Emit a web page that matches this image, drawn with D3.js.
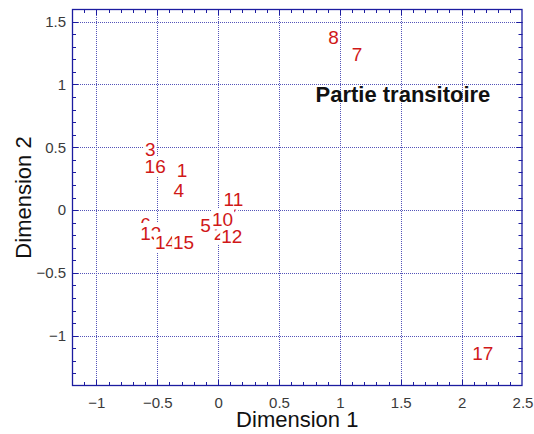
<!DOCTYPE html>
<html><head><meta charset="utf-8">
<script src="https://cdn.jsdelivr.net/npm/d3@7"></script>
<style>body{margin:0;background:#fff}svg{display:block}text{font-family:"Liberation Sans",Arial,sans-serif}</style>
</head><body><svg id="c" width="534" height="434"></svg>
<script>
const pointIds = ["1","2","3","4","5","6","7","8","9","10","11","12","13","14","15","16","17"];
const dim1 = [-0.34,-0.035,-0.60,-0.366,-0.146,-0.64,1.098,0.905,0.07,-0.05,0.045,0.025,-0.64,-0.518,-0.37,-0.604,2.087];
const dim2 = [0.32,-0.185,0.487,0.16,-0.123,-0.11,1.243,1.375,0.028,-0.07,0.089,-0.21,-0.185,-0.256,-0.256,0.347,-1.144];
const xTicks = [-1,-0.5,0,0.5,1,1.5,2,2.5];
const yTicks = [-1,-0.5,0,0.5,1,1.5];
const xLabel = "Dimension 1", yLabel = "Dimension 2", note = "Partie transitoire";

const svg = d3.select("#c");
const L=72, R=522.5, T=9, B=386;
const x = d3.scaleLinear().domain([-1.2,2.5]).range([L,R]);
const y = d3.scaleLinear().domain([-1.4,1.6]).range([B,T]);
const axisCol = "#1c1ca0";

svg.append("rect").attr("x",L).attr("y",T).attr("width",R-L).attr("height",B-T).attr("fill","#fff");
// grid
const g = svg.append("g").attr("stroke","#2a2aa8").attr("stroke-dasharray","1,1").attr("stroke-width",1).attr("opacity",0.8);
xTicks.forEach(v=>{ if(v>-1.2&&v<2.5) g.append("line").attr("x1",Math.round(x(v))+0.5).attr("x2",Math.round(x(v))+0.5).attr("y1",T).attr("y2",B); });
yTicks.forEach(v=>{ g.append("line").attr("y1",Math.round(y(v))+0.5).attr("y2",Math.round(y(v))+0.5).attr("x1",L).attr("x2",R); });

// axes with inward ticks
const minorX = d3.range(-12,26).map(i=>i/10).filter(v=>v>-1.2&&v<2.5);
const minorY = d3.range(-14,17).map(i=>i/10).filter(v=>v>-1.4&&v<1.6);
const tk = svg.append("g").attr("stroke",axisCol).attr("stroke-width",1);
const isMajor = v=>Math.abs(v*2-Math.round(v*2))<1e-6;
minorX.forEach(v=>{ const len=isMajor(v)?6:4; const px=Math.round(x(v))+0.5;
  tk.append("line").attr("x1",px).attr("x2",px).attr("y1",B).attr("y2",B-len);
  tk.append("line").attr("x1",px).attr("x2",px).attr("y1",T).attr("y2",T+len); });
minorY.forEach(v=>{ const len=isMajor(v)?6:4; const py=Math.round(y(v))+0.5;
  tk.append("line").attr("y1",py).attr("y2",py).attr("x1",L).attr("x2",L+len);
  tk.append("line").attr("y1",py).attr("y2",py).attr("x1",R).attr("x2",R-len); });

// tick labels via d3 axes
const xa = svg.append("g").attr("transform",`translate(0,${B})`).call(d3.axisBottom(x).tickValues(xTicks).tickSize(0).tickPadding(11).tickFormat(d3.format("")));
const ya = svg.append("g").attr("transform",`translate(${L},0)`).call(d3.axisLeft(y).tickValues(yTicks).tickSize(0).tickPadding(6).tickFormat(d3.format("")));
[xa,ya].forEach(a=>{ a.select(".domain").remove(); a.selectAll("text").attr("font-size",15).attr("fill","#3a3a3a").attr("font-family","'Liberation Sans',Arial,sans-serif"); });

// frame
svg.append("rect").attr("x",L+0.5).attr("y",T+0.5).attr("width",R-L-1).attr("height",B-T-1).attr("fill","none").attr("stroke",axisCol).attr("stroke-width",1.3);

// point labels with white background boxes, drawn in order
const lab = svg.append("g");
pointIds.forEach((id,i)=>{
  const gg = lab.append("g");
  const t = gg.append("text").attr("x",x(dim1[i])).attr("y",y(dim2[i])).attr("dy","0.35em")
    .attr("font-size",19).attr("fill","#d01818").text(id);
  const bb = t.node().getBBox();
  gg.insert("rect","text").attr("x",bb.x-1).attr("y",bb.y).attr("width",bb.width+2).attr("height",bb.height).attr("fill","#fff");
});

// annotation
svg.append("text").attr("x",x(0.8)).attr("y",y(0.86)).attr("font-size",22).attr("font-weight","bold").attr("fill","#111").text(note);

// axis labels
svg.append("text").attr("x",(L+R)/2).attr("y",427).attr("text-anchor","middle").attr("font-size",22).attr("fill","#111").text(xLabel);
svg.append("text").attr("transform",`translate(31,${(T+B)/2}) rotate(-90)`).attr("text-anchor","middle").attr("font-size",22).attr("fill","#111").text(yLabel);
</script></body></html>
